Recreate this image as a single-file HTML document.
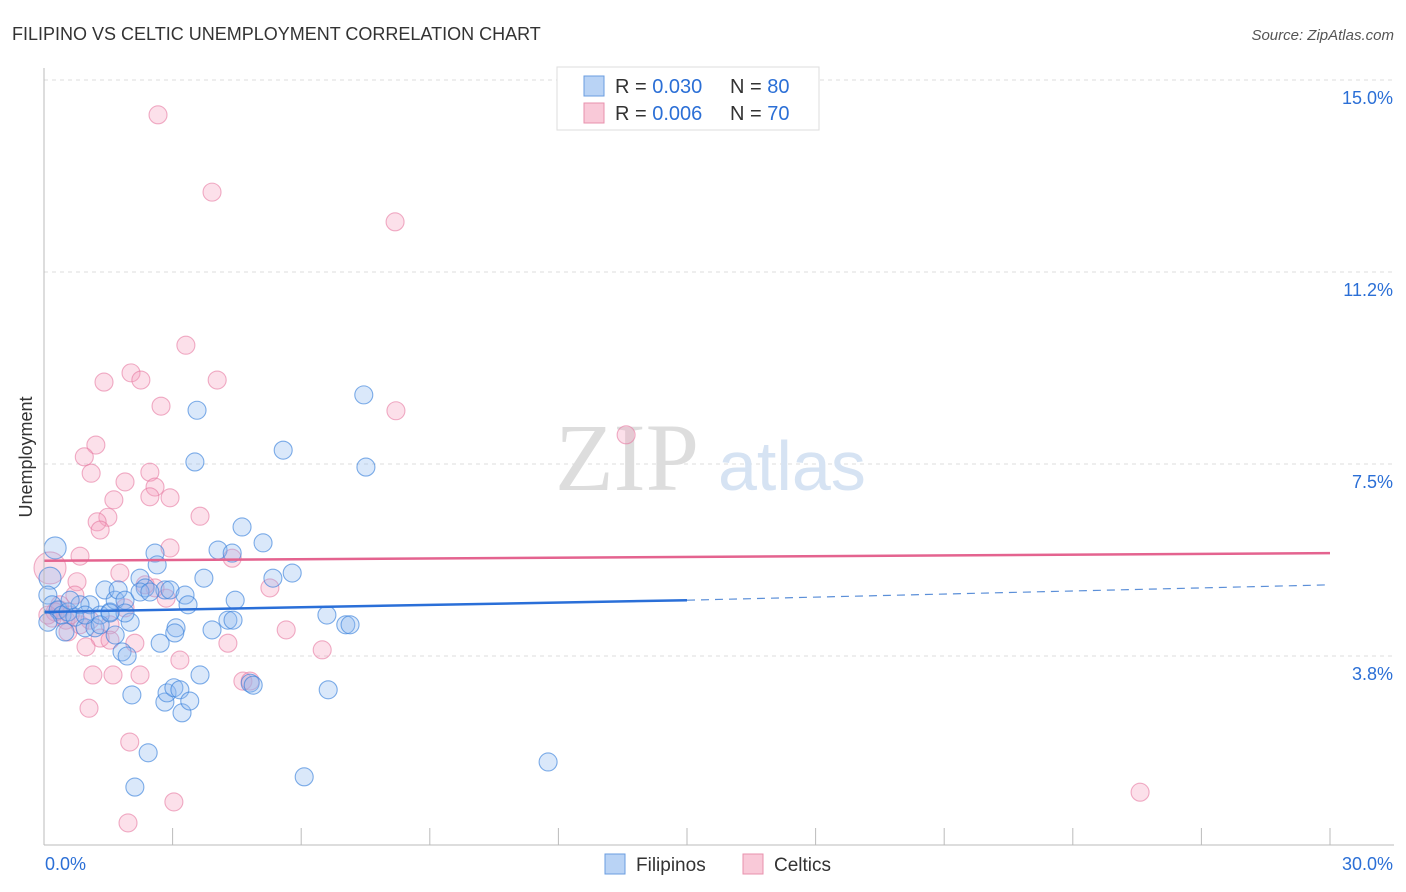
<!DOCTYPE html>
<html><head><meta charset="utf-8"><style>
body{margin:0;background:#fff;font-family:"Liberation Sans",sans-serif;}
svg{display:block}
</style></head><body>
<svg id="chart" width="1406" height="892">
<text x="12" y="40" font-size="18" fill="#333">FILIPINO VS CELTIC UNEMPLOYMENT CORRELATION CHART</text>
<text x="1394" y="40" font-size="15" fill="#555" text-anchor="end" font-style="italic">Source: ZipAtlas.com</text>
<g id="grid"></g>
<text x="555" y="490" font-size="96" fill="#ddd" font-family="Liberation Serif,serif">ZIP</text>
<text x="718" y="490" font-size="70" fill="#d6e3f3">atlas</text>
<g id="pts"></g>
<g id="axes"></g>
<text x="32" y="457" font-size="18" fill="#333" text-anchor="middle" transform="rotate(-90 32 457)">Unemployment</text>
<g>
<rect x="557" y="67" width="262" height="63" fill="#fff" stroke="#ddd"/>
<rect x="584" y="76" width="20" height="20" fill="#b9d3f5" stroke="#6a9de0"/>
<text x="615" y="93" font-size="20" fill="#333">R = <tspan fill="#2b6fd6">0.030</tspan></text>
<text x="730" y="93" font-size="20" fill="#333">N = <tspan fill="#2b6fd6">80</tspan></text>
<rect x="584" y="103" width="20" height="20" fill="#f9c9d8" stroke="#e891ad"/>
<text x="615" y="120" font-size="20" fill="#333">R = <tspan fill="#2b6fd6">0.006</tspan></text>
<text x="730" y="120" font-size="20" fill="#333">N = <tspan fill="#2b6fd6">70</tspan></text>
</g>
<g>
<rect x="605" y="854" width="20" height="20" fill="#b9d3f5" stroke="#6a9de0"/>
<text x="636" y="871" font-size="19" fill="#333">Filipinos</text>
<rect x="743" y="854" width="20" height="20" fill="#f9c9d8" stroke="#e891ad"/>
<text x="774" y="871" font-size="19" fill="#333">Celtics</text>
</g>
</svg>
<script>
const yTicks=[3.75,7.5,11.25,15];
const yTickLabels=["3.8%","7.5%","11.2%","15.0%"];
const xTickLabels=["0.0%","30.0%"];
const blueX=[0.26,0.14,0.09,0.19,0.33,0.42,0.56,0.72,0.96,1.07,1.19,1.31,1.42,1.54,1.66,1.73,1.89,2.01,2.24,2.36,2.59,2.64,2.82,2.94,2.71,3.08,3.05,3.29,3.36,3.57,3.52,3.73,3.92,4.06,4.39,4.46,4.29,4.41,4.62,5.11,5.34,5.58,5.79,6.60,7.04,7.14,7.46,7.51,1.82,1.94,2.05,2.43,2.12,2.82,2.87,3.03,3.17,3.22,3.40,3.64,4.81,4.88,6.07,6.63,11.76,0.49,0.84,1.31,1.66,0.09,0.61,1.89,2.24,2.47,1.54,0.96];
const blueY=[5.86,5.27,4.94,4.75,4.65,4.55,4.61,4.51,4.30,4.75,4.30,4.55,5.04,4.61,4.84,5.04,4.84,4.41,5.27,5.08,5.76,5.53,5.04,5.04,4.00,4.30,4.20,4.94,4.75,8.55,7.54,5.27,4.26,5.82,5.76,4.84,4.45,4.45,6.27,5.96,5.27,7.77,5.37,4.55,4.36,4.36,8.85,7.44,3.83,3.75,2.99,1.86,1.19,2.85,3.03,3.13,3.09,2.64,2.87,3.38,3.22,3.18,1.39,3.09,1.68,4.22,4.75,4.36,4.16,4.41,4.84,4.59,5.00,5.00,4.59,4.55];
const pinkX=[2.66,3.92,8.19,3.31,1.40,2.03,2.26,4.04,2.73,8.21,13.58,1.21,0.94,1.10,2.47,1.89,2.59,1.63,2.47,2.94,3.64,1.49,1.24,1.31,2.94,0.84,4.39,0.14,1.77,0.77,5.27,2.59,2.36,2.85,0.72,1.89,0.37,0.19,0.51,0.84,0.56,1.54,1.31,1.54,2.12,0.98,5.65,4.29,6.49,3.17,1.14,1.61,2.24,4.64,4.81,1.05,2.00,3.03,1.96,25.57,0.37,0.26,0.61,1.07,0.09];
const pinkY=[14.32,12.81,12.23,9.82,9.10,9.28,9.14,9.14,8.63,8.54,8.07,7.87,7.64,7.32,7.34,7.15,7.05,6.80,6.86,6.84,6.48,6.46,6.37,6.21,5.86,5.70,5.66,5.47,5.37,5.20,5.08,5.08,5.14,4.88,4.94,4.69,4.65,4.49,4.45,4.36,4.22,4.36,4.10,4.06,4.00,3.93,4.26,4.00,3.87,3.67,3.38,3.38,3.38,3.26,3.26,2.73,2.07,0.90,0.49,1.09,4.75,4.61,4.55,4.45,4.55];
const blueTrend=[4.61,4.84,5.14];
const pinkTrend=[5.61,5.76];
const X0=44,X1=1330,Y0=848,Y15=80;
const sx=v=>X0+(v/30)*(X1-X0);
const sy=v=>Y0-(v/15)*(Y0-Y15);
const NS="http://www.w3.org/2000/svg";
function mk(tag,attrs,parent){const e=document.createElementNS(NS,tag);for(const k in attrs)e.setAttribute(k,attrs[k]);parent.appendChild(e);return e;}
const grid=document.getElementById('grid'),axes=document.getElementById('axes'),pts=document.getElementById('pts');
yTicks.forEach((t,i)=>{
 const l=mk('line',{x1:X0,x2:1394,y1:sy(t),y2:sy(t),stroke:'#ddd','stroke-dasharray':'4,4'},grid);
 
 
 const tx=mk('text',{x:1393,y:sy(t)+24,'font-size':18,fill:'#2b6fd6','text-anchor':'end'},grid);
 tx.textContent=yTickLabels[i];
 
 
});
const l0=mk('line',{x1:X0,x2:X0,y1:68,y2:845,stroke:'#bbb'},axes);


const l1=mk('line',{x1:X0,x2:1394,y1:845,y2:845,stroke:'#bbb'},axes);


for(let i=1;i<=10;i++){
 const t=mk('line',{x1:sx(i*3),x2:sx(i*3),y1:828,y2:845,stroke:'#bbb'},axes);
 
 
}
[[0,'start',45],[30,'end',1393]].forEach((d,i)=>{
 const t=mk('text',{x:d[2],y:870,'font-size':18,fill:'#2b6fd6','text-anchor':d[1]},axes);
 t.textContent=xTickLabels[i];
 
 
});
pinkX.forEach((x,i)=>{
 const c=mk('circle',{cx:sx(x),cy:sy(pinkY[i]),r:i==27?16:9,fill:'rgba(245,160,190,0.32)',stroke:'rgba(230,120,160,0.6)','stroke-width':1.1},pts);
 
 
});
blueX.forEach((x,i)=>{
 const c=mk('circle',{cx:sx(x),cy:sy(blueY[i]),r:i==0||i==1?11:9,fill:'rgba(140,185,240,0.32)',stroke:'rgba(60,130,220,0.65)','stroke-width':1.1},pts);
 
 
});
const bt=mk('line',{x1:sx(0),y1:sy(blueTrend[0]),x2:sx(15),y2:sy(blueTrend[1]),stroke:'#2a6fd8','stroke-width':2.5},pts);


const bd=mk('line',{x1:sx(15),y1:sy(blueTrend[1]),x2:sx(30),y2:sy(blueTrend[2]),stroke:'#5b8fd8','stroke-width':1.2,'stroke-dasharray':'8,6'},pts);


const pt=mk('line',{x1:sx(0),y1:sy(pinkTrend[0]),x2:sx(30),y2:sy(pinkTrend[1]),stroke:'#e4638f','stroke-width':2.5},pts);


</script>
</body></html>
